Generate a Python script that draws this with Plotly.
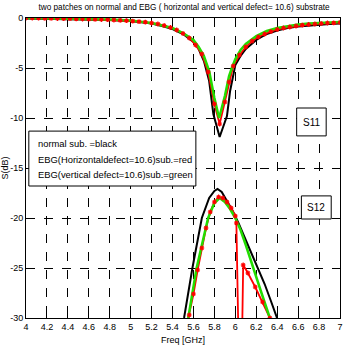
import plotly.graph_objects as go

# ---- data ----
f_s11_black = [4.0, 4.2, 4.4, 4.6, 4.8, 5.0, 5.1, 5.2, 5.3, 5.4, 5.5, 5.6, 5.65, 5.7, 5.75, 5.79, 5.85,
               5.92, 5.95, 6.0, 6.05, 6.1, 6.2, 6.3, 6.4, 6.5, 6.6, 6.7, 6.8, 6.9, 7.0]
s11_black = [-0.05, -0.07, -0.1, -0.15, -0.2, -0.3, -0.4, -0.55, -0.8, -1.1, -1.6, -2.4, -3.1, -4.3, -6.3, -9.6, -11.9,
             -9.8, -7.3, -4.7, -3.8, -3.1, -2.2, -1.6, -1.25, -1.0, -0.85, -0.75, -0.65, -0.6, -0.55]

f_s11_green = [4.0, 4.2, 4.4, 4.6, 4.8, 5.0, 5.2, 5.4, 5.5, 5.6, 5.65, 5.7, 5.75, 5.8, 5.845,
               5.9, 5.94, 5.97, 6.0, 6.05, 6.1, 6.2, 6.3, 6.4, 6.5, 6.6, 6.7, 6.8, 6.9, 7.0]
s11_green = [0.0, -0.03, -0.06, -0.1, -0.16, -0.25, -0.5, -1.0, -1.5, -2.2, -2.9, -3.8, -5.3, -8.0, -10.0,
             -7.8, -5.8, -4.9, -4.1, -3.2, -2.6, -1.8, -1.3, -1.0, -0.8, -0.65, -0.55, -0.5, -0.45, -0.4]

f_s11_red = [4.00, 4.06, 4.12, 4.18, 4.24, 4.30, 4.36, 4.42, 4.48, 4.54, 4.60, 4.66, 4.72, 4.78, 4.84,
             4.90, 4.96, 5.02, 5.08, 5.14, 5.20, 5.26, 5.32, 5.38, 5.44, 5.50, 5.56, 5.62, 5.68, 5.74,
             5.80, 5.85, 5.90, 5.94, 5.98, 6.04, 6.10, 6.16, 6.22, 6.28, 6.34, 6.40, 6.46, 6.52, 6.58,
             6.64, 6.70, 6.76, 6.82, 6.88, 6.94, 7.00]
s11_red = [0.0, 0.0, -0.02, -0.03, -0.04, -0.05, -0.06, -0.07, -0.08, -0.1, -0.12, -0.13, -0.15, -0.17, -0.2,
           -0.23, -0.27, -0.31, -0.36, -0.42, -0.5, -0.6, -0.75, -0.95, -1.2, -1.55, -2.0, -2.7, -3.6, -5.4,
           -8.6, -10.6, -8.4, -6.4, -4.8, -3.7, -2.9, -2.3, -1.9, -1.6, -1.35, -1.15, -1.0, -0.9, -0.8,
           -0.72, -0.65, -0.6, -0.55, -0.5, -0.48, -0.45]

f_s12_black = [5.45, 5.51, 5.59, 5.68, 5.75, 5.8, 5.83, 5.87, 5.92, 5.97, 6.03, 6.1, 6.16, 6.22, 6.28, 6.34, 6.4, 6.45]
s12_black = [-33.0, -30.0, -25.0, -20.0, -18.0, -17.3, -17.1, -17.4, -18.3, -19.2, -20.5, -22.2, -23.6, -25.0,
             -26.6, -28.3, -30.0, -31.5]

f_s12_green = [5.5, 5.55, 5.63, 5.74, 5.8, 5.85, 5.9, 5.95, 6.0, 6.05, 6.1, 6.17, 6.25, 6.33, 6.38]
s12_green = [-32.0, -30.0, -25.0, -20.0, -18.5, -18.0, -18.4, -19.1, -20.0, -21.2, -22.7, -25.0, -27.5, -30.0, -31.5]

f_s12_red = [5.52, 5.56, 5.60, 5.64, 5.68, 5.72, 5.76, 5.80, 5.84, 5.88, 5.92, 5.96, 6.00, 6.01,
             6.035, 6.06, 6.075, 6.12, 6.19, 6.26, 6.33, 6.36]
s12_red = [-31.5, -29.7, -27.6, -25.2, -23.0, -21.0, -19.4, -18.4, -17.9, -18.0, -18.4, -19.0, -19.8, -20.5,
           -35.0, -35.0, -24.7, -25.5, -26.9, -28.4, -30.0, -30.8]

x_ticks = [4, 4.2, 4.4, 4.6, 4.8, 5, 5.2, 5.4, 5.6, 5.8, 6, 6.2, 6.4, 6.6, 6.8, 7]
x_tick_text = ["4", "4.2", "4.4", "4.6", "4.8", "5", "5.2", "5.4", "5.6", "5.8", "6", "6.2", "6.4", "6.6", "6.8", "7"]
y_ticks = [0, -5, -10, -15, -20, -25, -30]
y_tick_text = ["0", "-5", "-10", "-15", "-20", "-25", "-30"]

title_text = "two patches on normal and EBG ( horizontal and vertical defect= 10.6) substrate"
legend_lines = ["normal sub. =black", "EBG(Horizontaldefect=10.6)sub.=red", "EBG(vertical defect=10.6)sub.=green"]

FONT = "Liberation Sans, Arial, sans-serif"

fig = go.Figure()

def add_black(x, y):
    fig.add_trace(go.Scatter(x=x, y=y, mode="lines", line=dict(color="black", width=2), showlegend=False))

def add_red(x, y):
    fig.add_trace(go.Scatter(x=x, y=y, mode="lines", line=dict(color="#ff0000", width=1.8), showlegend=False))

def add_red_markers(x, y):
    fig.add_trace(go.Scatter(x=x, y=y, mode="markers",
                             marker=dict(color="#ff0000", size=4, symbol="asterisk-open",
                                         line=dict(color="#ff0000", width=1.2)),
                             showlegend=False, cliponaxis=True))

def add_green(x, y):
    fig.add_trace(go.Scatter(x=x, y=y, mode="lines", line=dict(color="#22dd00", width=2.5), showlegend=False))

add_black(f_s11_black, s11_black)
add_black(f_s12_black, s12_black)
add_red(f_s11_red, s11_red)
add_red(f_s12_red, s12_red)
add_green(f_s11_green, s11_green)
add_green(f_s12_green, s12_green)
add_red_markers(f_s11_red, s11_red)
add_red_markers(f_s12_red, s12_red)

axis_common = dict(showline=True, linecolor="black", linewidth=1, mirror=True,
                   showgrid=True, gridcolor="black", gridwidth=1, griddash="dash",
                   zeroline=False, ticks="inside", ticklen=3, tickcolor="black",
                   ticklabeloverflow="allow",
                   tickfont=dict(family=FONT, size=9, color="black"))

fig.update_xaxes(range=[4, 7], tickvals=x_ticks, ticktext=x_tick_text,
                 title=dict(text="Freq [GHz]", font=dict(family=FONT, size=9, color="black"), standoff=5),
                 **axis_common)
fig.update_yaxes(range=[-30, 0], tickvals=y_ticks, ticktext=y_tick_text,
                 title=dict(text="S(dB)", font=dict(family=FONT, size=9, color="black"), standoff=3),
                 **axis_common)

# legend-like text box
fig.add_shape(type="rect", xref="paper", yref="paper", x0=0.009, x1=0.541, y0=0.44, y1=0.623,
              line=dict(color="black", width=1), fillcolor="white", layer="above")
for t, yy in zip(legend_lines, [0.583, 0.53, 0.478]):
    fig.add_annotation(xref="paper", yref="paper", x=0.031, y=yy, text=t, showarrow=False,
                       xanchor="left", yanchor="middle", font=dict(family=FONT, size=9.4, color="black"))

# S11 / S12 boxes
fig.add_shape(type="rect", xref="paper", yref="paper", x0=0.862, x1=0.956, y0=0.607, y1=0.70,
              line=dict(color="black", width=1), fillcolor="white", layer="above")
fig.add_annotation(xref="paper", yref="paper", x=0.909, y=0.653, text="S11", showarrow=False,
                   xanchor="center", yanchor="middle", font=dict(family=FONT, size=10, color="black"))
fig.add_shape(type="rect", xref="paper", yref="paper", x0=0.877, x1=0.972, y0=0.33, y1=0.407,
              line=dict(color="black", width=1), fillcolor="white", layer="above")
fig.add_annotation(xref="paper", yref="paper", x=0.925, y=0.368, text="S12", showarrow=False,
                   xanchor="center", yanchor="middle", font=dict(family=FONT, size=10, color="black"))

fig.update_layout(
    width=344, height=346,
    margin=dict(l=25, r=1, t=18, b=28),
    paper_bgcolor="white", plot_bgcolor="white",
    title=dict(text=title_text, x=0.535, xanchor="center", y=0.98, yanchor="middle",
               font=dict(family=FONT, size=8.2, color="black")),
    showlegend=False,
)

fig.write_html("out.html")
